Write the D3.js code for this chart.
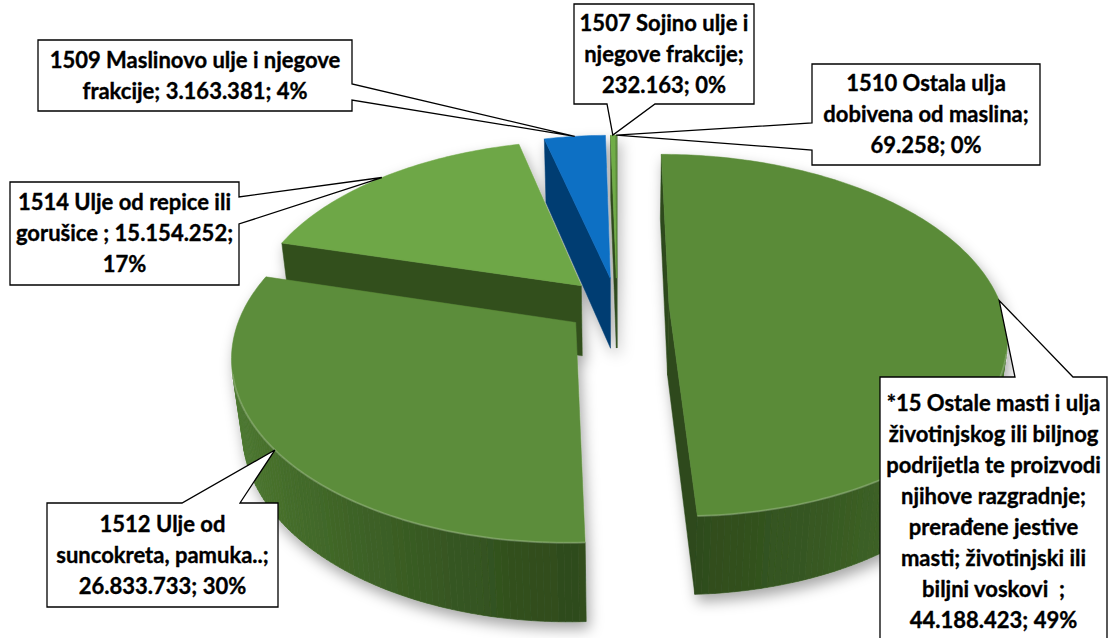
<!DOCTYPE html>
<html>
<head>
<meta charset="utf-8">
<script src="https://cdn.jsdelivr.net/npm/d3@7"></script>
<style>
  body { margin: 0; background: #fff; }
  svg { display: block; }
</style>
</head>
<body>
<div id="app"></div>
<script>
// data
const categories = [
  '*15 Ostale masti i ulja životinjskog ili biljnog podrijetla te proizvodi njihove razgradnje; prerađene jestive masti; životinjski ili biljni voskovi',
  '1512 Ulje od suncokreta, pamuka..',
  '1514 Ulje od repice ili gorušice',
  '1509 Maslinovo ulje i njegove frakcije',
  '1507 Sojino ulje i njegove frakcije',
  '1510 Ostala ulja dobivena od maslina'
];
const values = [44188423, 26833733, 15154252, 3163381, 232163, 69258];
// label text as broken in the original, {v} = value, {p} = percent
const labelLines = [
  ['*15 Ostale masti i ulja', 'životinjskog ili biljnog', 'podrijetla te proizvodi', 'njihove razgradnje;', 'prerađene jestive', 'masti; životinjski ili', 'biljni voskovi  ;', '{v}; {p}'],
  ['1512 Ulje od', 'suncokreta, pamuka..;', '{v}; {p}'],
  ['1514 Ulje od repice ili', 'gorušice ; {v};', '{p}'],
  ['1509 Maslinovo ulje i njegove', 'frakcije; {v}; {p}'],
  ['1507 Sojino ulje i', 'njegove frakcije;', '{v}; {p}'],
  ['1510 Ostala ulja', 'dobivena od maslina;', '{v}; {p}']
];

// styles
const topColors = ['#5a8b39', '#5c8d3a', '#6ea746', '#0b6fc4', '#70ad47', '#5b8c3a'];
const wallLight = ['#4d7a31', '#4e7b31', '#557f35', '#06589f', '#4f7d32', '#4d7a31'];
const wallDark = ['#2e4b1c', '#2f4c1d', '#34521f', '#033a6a', '#2e4b1c', '#2e4b1c'];
const cutColors = ['#2d481b', '#30491c', '#33501f', '#023e72', '#2f4a1d', '#2f4a1d'];

// label box layout
const boxes = [
  { x: 880, y: 377, w: 227, h: 269, side: 'top', a: 1015, b: 1073 },
  { x: 47, y: 503, w: 231, h: 104, side: 'top', a: 182, b: 240 },
  { x: 10, y: 182, w: 229, h: 103, side: 'right', a: 197, b: 224 },
  { x: 38, y: 40, w: 314, h: 71, side: 'right', a: 84, b: 100 },
  { x: 574, y: 4, w: 180, h: 100, side: 'bottom', a: 607, b: 655 },
  { x: 812, y: 64, w: 228, h: 101, side: 'left', a: 123, b: 150 }
];

const w = 1112, h = 638;
const CX = 617, CY = 305, R = 332, DEPTH = 86, EXPLODE = 52, DIST = 1646;
const tilt = 32 * Math.PI / 180;
const sinP = Math.sin(tilt), cosP = Math.cos(tilt);
const lh = 31;

const hr = d3.formatLocale({ decimal: ',', thousands: '.', grouping: [3], currency: ['', ''] });
const fmt = hr.format(',d');
const total = d3.sum(values);

const arcs = d3.pie().sort(null).value(d => d)(values);

// 3D -> screen (pie lies flat, angle clockwise from the back)
function proj(theta, r, y, mid) {
  const X = r * Math.sin(theta) + EXPLODE * Math.sin(mid);
  const Z = r * Math.cos(theta) + EXPLODE * Math.cos(mid);
  const yc = y * cosP + Z * sinP;
  const zc = Z * cosP - y * sinP;
  const s = DIST / (DIST + zc);
  return [CX + X * s, CY - yc * s];
}

function area(pts) {
  let a = 0;
  for (let i = 0; i < pts.length; i++) {
    const p = pts[i], q = pts[(i + 1) % pts.length];
    a += p[0] * q[1] - q[0] * p[1];
  }
  return a / 2;
}

const line = d3.line();

const svg = d3.select('#app').append('svg').attr('width', w).attr('height', h);

const defs = svg.append('defs');
defs.append('filter').attr('id', 'shadow')
  .attr('x', '-10%').attr('y', '-10%').attr('width', '120%').attr('height', '130%')
  .append('feDropShadow')
  .attr('dx', 3).attr('dy', 7).attr('stdDeviation', 7)
  .attr('flood-color', '#000').attr('flood-opacity', 0.35);

const pieG = svg.append('g').attr('filter', 'url(#shadow)');

// far slices first
const order = arcs.map((d, i) => i)
  .sort((a, b) => Math.cos((arcs[b].startAngle + arcs[b].endAngle) / 2) - Math.cos((arcs[a].startAngle + arcs[a].endAngle) / 2));

order.forEach(i => {
  const d = arcs[i];
  const a0 = d.startAngle, a1 = d.endAngle, mid = (a0 + a1) / 2;
  const g = pieG.append('g');
  const n = Math.max(2, Math.ceil((a1 - a0) / (Math.PI / 180)));
  const ts = d3.range(n + 1).map(k => a0 + (a1 - a0) * k / n);
  const shade = d3.interpolateRgb(wallDark[i], wallLight[i]);

  // outer wall
  const rim = [];
  for (let k = 0; k < n; k++) {
    const t0 = ts[k], t1 = ts[k + 1];
    const q = [proj(t0, R, 0, mid), proj(t1, R, 0, mid), proj(t1, R, -DEPTH, mid), proj(t0, R, -DEPTH, mid)];
    if (area(q) < 0) {
      const c = shade(Math.pow(Math.abs(Math.sin((t0 + t1) / 2)), 1.2));
      g.append('path').attr('d', line(q) + 'Z').attr('fill', c).attr('stroke', c).attr('stroke-width', 0.7);
      rim.push([q[0], q[1]]);
    }
  }

  // radial walls
  const C = proj(0, 0, 0, mid), Cb = proj(0, 0, -DEPTH, mid);
  const startWall = [C, proj(a0, R, 0, mid), proj(a0, R, -DEPTH, mid), Cb];
  const endWall = [proj(a1, R, 0, mid), C, Cb, proj(a1, R, -DEPTH, mid)];
  [startWall, endWall].forEach(q => {
    if (area(q) < 0) {
      g.append('path').attr('d', line(q) + 'Z').attr('fill', cutColors[i])
        .attr('stroke', cutColors[i]).attr('stroke-width', 0.5);
    }
  });

  // top face
  const top = [C].concat(ts.map(t => proj(t, R, 0, mid)));
  g.append('path').attr('d', line(top) + 'Z').attr('fill', topColors[i])
    .attr('stroke', topColors[i]).attr('stroke-width', 0.5);

  // soft highlight on the front rim
  rim.forEach(s => {
    g.append('path').attr('d', line(s)).attr('stroke', '#ffffff').attr('stroke-opacity', 0.2)
      .attr('stroke-width', 2).attr('fill', 'none');
  });
});

// callouts
function calloutPath(b, tip) {
  const x0 = b.x, y0 = b.y, x1 = b.x + b.w, y1 = b.y + b.h;
  let p;
  if (b.side === 'right') p = [[x0, y0], [x1, y0], [x1, b.a], tip, [x1, b.b], [x1, y1], [x0, y1]];
  else if (b.side === 'left') p = [[x0, y0], [x1, y0], [x1, y1], [x0, y1], [x0, b.b], tip, [x0, b.a]];
  else if (b.side === 'top') p = [[x0, y0], [b.a, y0], tip, [b.b, y0], [x1, y0], [x1, y1], [x0, y1]];
  else p = [[x0, y0], [x1, y0], [x1, y1], [b.b, y1], tip, [b.a, y1], [x0, y1]];
  return line(p) + 'Z';
}

const labelG = svg.append('g');
arcs.forEach((d, i) => {
  const mid = (d.startAngle + d.endAngle) / 2;
  const tip = proj(mid, R, 0, mid);
  const b = boxes[i];
  labelG.append('path').attr('d', calloutPath(b, tip))
    .attr('fill', '#fff').attr('stroke', '#000').attr('stroke-width', 1.3)
    .attr('stroke-linejoin', 'miter');
  const pct = Math.round(values[i] / total * 100) + '%';
  const lines = labelLines[i].map(s => s.replace('{v}', fmt(values[i])).replace('{p}', pct));
  const first = b.y + b.h / 2 - (lines.length - 1) * lh / 2;
  const t = labelG.append('text')
    .attr('text-anchor', 'middle')
    .style('font-family', 'Lato, sans-serif').style('font-weight', 'bold').style('font-size', '22px')
    .style('white-space', 'pre')
    .attr('fill', '#000').attr('stroke', '#000').attr('stroke-width', 0.35);
  lines.forEach((s, k) => {
    t.append('tspan').attr('x', b.x + b.w / 2).attr('y', first + k * lh).attr('dy', '0.36em').text(s);
  });
});
</script>
</body>
</html>
